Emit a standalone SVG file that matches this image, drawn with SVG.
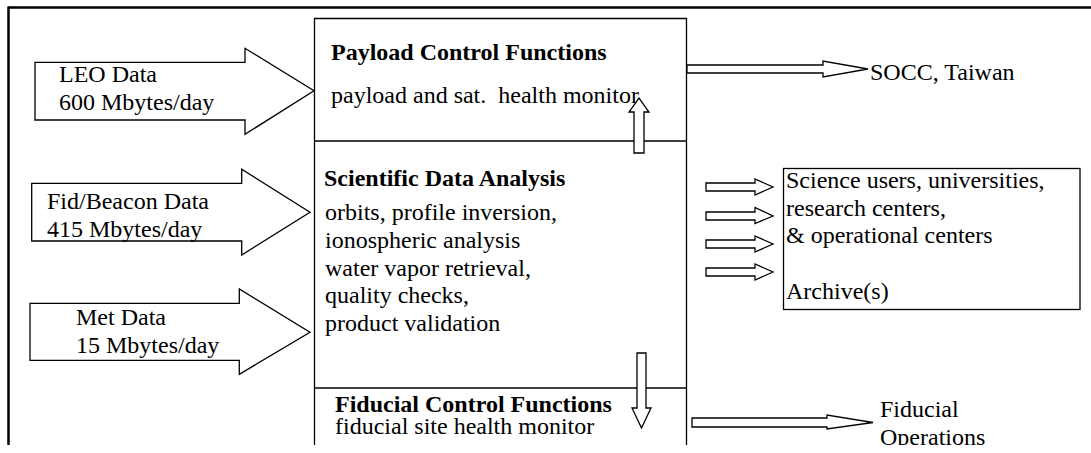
<svg xmlns="http://www.w3.org/2000/svg" width="1091" height="453" viewBox="0 0 1091 453">
<defs>
<clipPath id="clip"><rect x="0" y="0" width="1091" height="445"/></clipPath>
<style>
text{font-family:"Liberation Serif","Times New Roman",serif;font-size:24px;fill:#000}
.b{font-weight:bold}
.line{stroke:#000;stroke-width:1.3;fill:none}
.arr{stroke:#000;stroke-width:1.3;fill:#fff;stroke-linejoin:miter}
.frame{stroke:#000;stroke-width:2.5;fill:none}
</style>
</defs>
<rect width="1091" height="453" fill="#fff"/>
<g clip-path="url(#clip)">
<g id="frame">
<line class="frame" x1="8.5" y1="7.5" x2="1091" y2="7.5"/>
<line class="frame" x1="8.5" y1="6.5" x2="8.5" y2="453"/>
</g>
<g id="main-box">
<path class="line" d="M314.5 460 V18.5 H686.5 V460"/>
<line class="line" x1="314.5" y1="141" x2="686.5" y2="141"/>
<line class="line" x1="314.5" y1="388" x2="686.5" y2="388"/>
</g>
<g id="payload">
<text class="b" x="331" y="60">Payload Control Functions</text>
<text x="331" y="103" xml:space="preserve">payload and sat.  health monitor</text>
</g>
<g id="science">
<text class="b" x="324" y="186">Scientific Data Analysis</text>
<text x="325" y="220">orbits, profile inversion,</text>
<text x="325" y="248">ionospheric analysis</text>
<text x="325" y="276">water vapor retrieval,</text>
<text x="325" y="303">quality checks,</text>
<text x="325" y="331">product validation</text>
</g>
<g id="fiducial">
<text class="b" x="335" y="412">Fiducial Control Functions</text>
<text x="335" y="434">fiducial site health monitor</text>
</g>
<g id="leo">
<path class="arr" d="M35 62.3 H245 V48.3 L314 90.7 L245 134.3 V120 H35 Z"/>
<text x="59" y="82">LEO Data</text>
<text x="59" y="109.5">600 Mbytes/day</text>
</g>
<g id="fid-beacon">
<path class="arr" d="M31.7 183.3 H241.7 V169.3 L310 212.3 L241.7 255 V241 H31.7 Z"/>
<text x="47" y="209">Fid/Beacon Data</text>
<text x="47" y="237">415 Mbytes/day</text>
</g>
<g id="met">
<path class="arr" d="M30 303.3 H239.3 V289 L310 332.3 L239.3 374.3 V360.3 H30 Z"/>
<text x="76" y="325">Met Data</text>
<text x="76" y="353">15 Mbytes/day</text>
</g>
<g id="socc">
<text x="870" y="80">SOCC, Taiwan</text>
</g>
<g id="users">
<rect class="line" x="783.5" y="168.5" width="296.5" height="141"/>
<text x="786" y="188">Science users, universities,</text>
<text x="786" y="215.5">research centers,</text>
<text x="786" y="243">&amp; operational centers</text>
<text x="786" y="299">Archive(s)</text>
</g>
<g id="fid-ops">
<text x="880" y="417">Fiducial</text>
<text x="880" y="444.6">Operations</text>
</g>
<g id="connectors">
<path class="arr" d="M687 65 H823 V61 L868 69 L823 77 V73 H687 Z"/>
<path class="arr" d="M634 153 V112 H629 L639 98 L649 112 H644 V153 Z"/>
<path class="arr" d="M637 353 V408 H632 L641.5 428 L651 408 H646 V353 Z"/>
<path class="arr" d="M692 418 H827 V415 L873 422.5 L827 429 V427 H692 Z"/>
<path class="arr" d="M706 183 H755 V179 L773 187 L755 195 V191 H706 Z"/>
<path class="arr" d="M706 212 H755 V207.5 L773 216 L755 223.5 V220 H706 Z"/>
<path class="arr" d="M706 240 H755 V236 L773 244 L755 252 V248 H706 Z"/>
<path class="arr" d="M706 268 H755 V264 L773 272 L755 280 V276 H706 Z"/>
</g>
</g>
</svg>
